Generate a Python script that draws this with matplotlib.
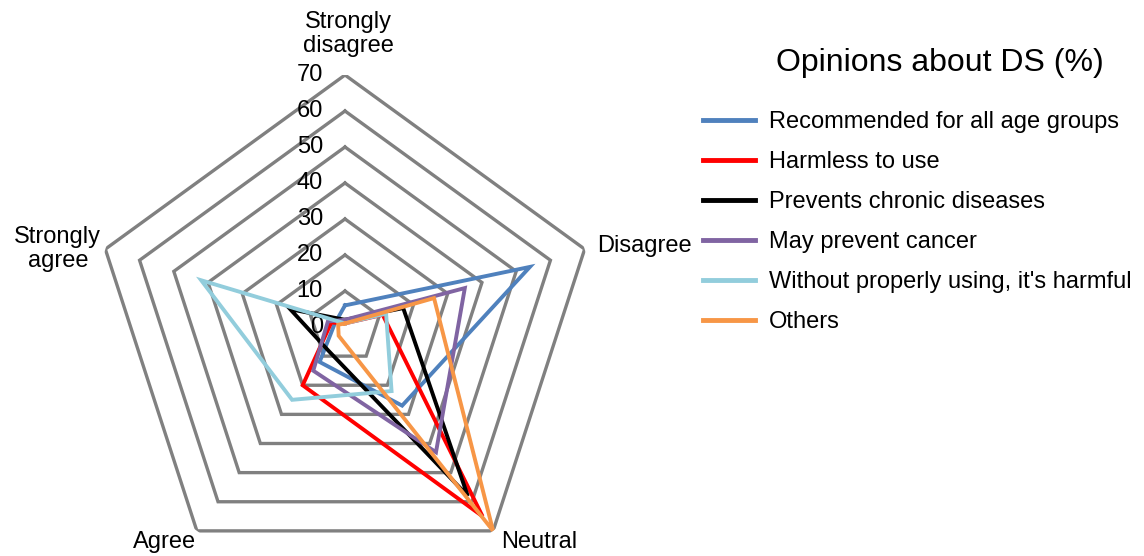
import numpy as np
import matplotlib
matplotlib.use('Agg')
import matplotlib.pyplot as plt

plt.rcParams['font.family'] = ['Liberation Sans', 'DejaVu Sans']

# axes of the radar, clockwise from the top
categories = ['Strongly\ndisagree', 'Disagree', 'Neutral', 'Agree', 'Strongly\nagree']

series_names = ['Recommended for all age groups', 'Harmless to use', 'Prevents chronic diseases',
                'May prevent cancer', "Without properly using, it's harmful", 'Others']
recommended = [6, 54, 27, 12, 3]
harmless = [1, 11, 65, 20, 4]
prevents_chronic = [2, 17, 58, 8, 16]
prevents_cancer = [2, 35, 43, 15, 5]
improper_use = [1, 12, 22, 25, 42]
others = [1, 26, 70, 3, 2]

ring_values = [0, 10, 20, 30, 40, 50, 60, 70]

colors = ['#4F81BD', '#FF0000', '#000000', '#8064A2', '#92CDDC', '#F79646']
all_series = [recommended, harmless, prevents_chronic, prevents_cancer, improper_use, others]

W, H = 1144, 556
fig = plt.figure(figsize=(W / 100, H / 100), dpi=100)

# polar axes centred at (345, 327) px, radius 252 px for r = 70
cx, cy, R = 345, 327, 252
ax = fig.add_axes([(cx - R) / W, (H - cy - R) / H, 2 * R / W, 2 * R / H], projection='polar')
ax.set_theta_offset(np.pi / 2)
ax.set_theta_direction(-1)
ax.set_ylim(0, 70)
ax.grid(False)
ax.spines['polar'].set_visible(False)
ax.set_xticks([])
ax.set_yticks([])
ax.patch.set_alpha(0)

n = len(categories)
angles = np.linspace(0, 2 * np.pi, n, endpoint=False)
closed = np.append(angles, angles[0])

# pentagon grid
for rv in ring_values[1:]:
    ax.plot(closed, [rv] * (n + 1), color='#808080', lw=2.4, solid_joinstyle='miter', zorder=1)

for vals, name, col in zip(all_series, series_names, colors):
    ax.plot(closed, vals + vals[:1], color=col, lw=2.8, label=name, solid_joinstyle='miter', zorder=3)

# radial tick labels left of the top spoke
for rv in ring_values:
    ax.annotate(str(rv), xy=(0, rv), xytext=(-22, 0), textcoords='offset pixels',
                ha='right', va='center', fontsize=17, zorder=2)

# category labels
label_pos = [((3, 41), 'center', 'center'),
             ((12, 3), 'left', 'center'),
             ((8, -11), 'left', 'center'),
             ((-1, -11), 'right', 'center'),
             ((-4, 0), 'right', 'center')]
for ang, lab, (off, ha, va) in zip(angles, categories, label_pos):
    ax.annotate(lab, xy=(ang, 70), xytext=off, textcoords='offset pixels',
                ha=ha, va=va, multialignment='center', fontsize=17, linespacing=1.12,
                annotation_clip=False)

fig.text(940 / W, 1 - 63 / H, 'Opinions about DS (%)', ha='center', va='center', fontsize=23)

leg = fig.legend(loc='upper left', bbox_to_anchor=(682 / W, 1 - 90 / H), frameon=False,
                 fontsize=17, handlelength=2.2, handletextpad=0.6, labelspacing=0.76)
for line in leg.get_lines():
    line.set_linewidth(3.5)

fig.savefig('out.png', dpi=100)
